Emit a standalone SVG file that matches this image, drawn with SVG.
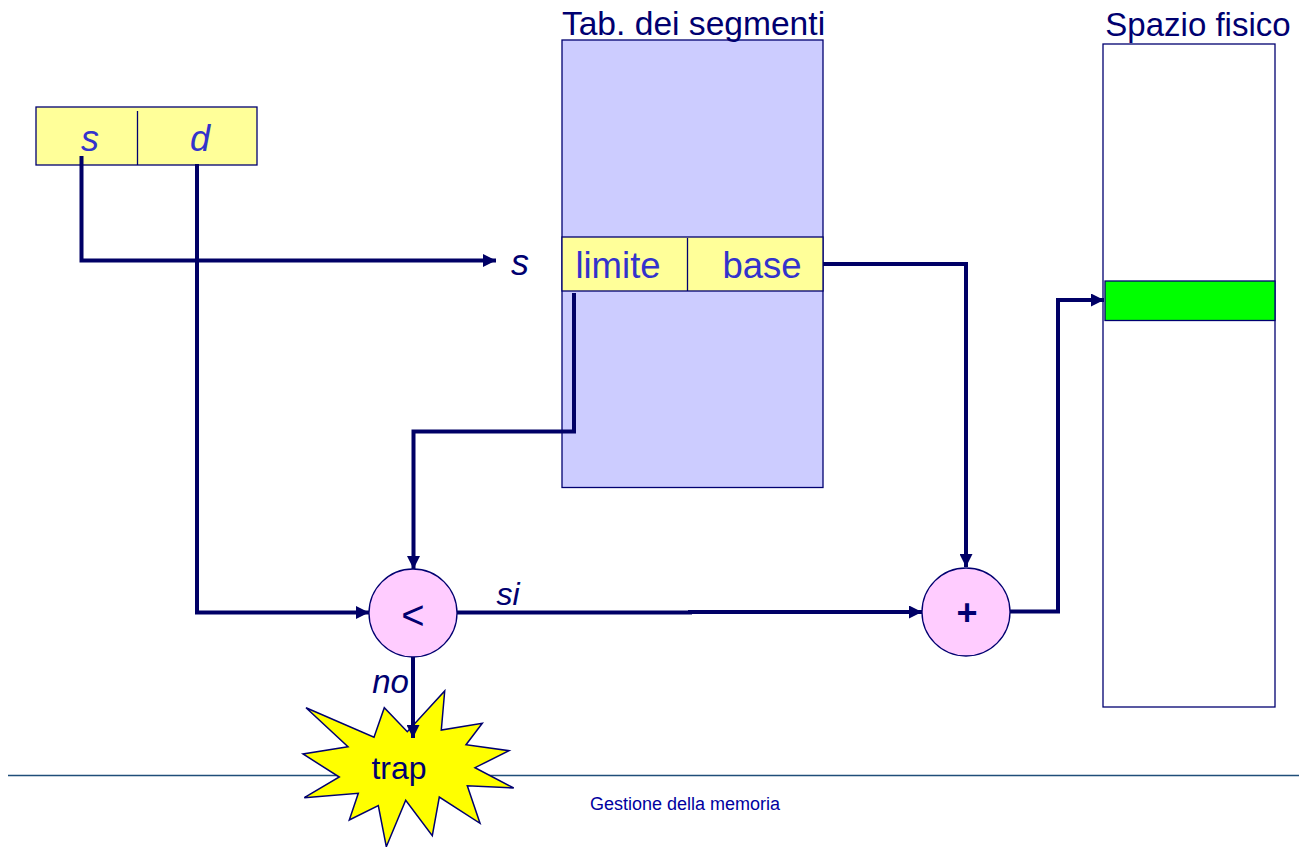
<svg xmlns="http://www.w3.org/2000/svg" width="1299" height="847" viewBox="0 0 1299 847">
<style>
text{font-family:"Liberation Sans",Arial,sans-serif;fill:#000070}
text.b{fill:#3333CC}
.i{font-style:italic}
.box{stroke:#000070;stroke-width:1.300}
.div{stroke:#000070;stroke-width:1.300;fill:none}
.c{fill:none;stroke:#000066;stroke-width:4}
</style>
<defs>
<marker id="a" markerUnits="userSpaceOnUse" markerWidth="14" markerHeight="13" refX="13" refY="6.500" orient="auto"><path d="M0 0L13 6.500L0 13z" fill="#000066"/></marker>
</defs>
<rect width="1299" height="847" fill="#fff"/>
<path d="M8 775.500H1299" stroke="#1F4E79" stroke-width="1.500" fill="none"/>
<text x="685" y="810" font-size="18" text-anchor="middle" style="fill:#0000A0">Gestione della memoria</text>
<g id="tab-segmenti">
<rect class="box" x="562" y="40" width="261" height="447.500" fill="#CCCCFF"/>
<text x="693.500" y="35" font-size="33.600" text-anchor="middle">Tab. dei segmenti</text>
</g>
<g id="riga-segmento">
<rect class="box" x="562" y="237" width="261" height="54" fill="#FFFF99"/>
<path class="div" d="M687.500 238V291"/>
<text class="b" x="618" y="278" font-size="36.500" text-anchor="middle">limite</text>
<text class="b" x="762" y="278" font-size="36.500" text-anchor="middle">base</text>
</g>
<g id="indirizzo">
<rect class="box" x="36" y="107" width="221" height="58" fill="#FFFF99"/>
<path class="div" d="M137.500 111V165"/>
<text class="b i" x="90" y="151" font-size="36" text-anchor="middle">s</text>
<text class="b i" x="200" y="151" font-size="36" text-anchor="middle">d</text>
</g>
<g id="spazio-fisico">
<rect class="box" x="1103" y="44" width="172" height="663" fill="#fff"/>
<rect class="box" x="1105" y="281" width="170" height="39.500" fill="#00FF00"/>
<text x="1198" y="36" font-size="33" text-anchor="middle">Spazio fisico</text>
</g>
<g id="trap">
<polygon points="306,707.700 374,737.300 384.300,707.700 407.300,731.700 444.700,691 441.300,730 482.300,723.300 466,744.700 509,750.700 475,767.700 513.700,788 467.300,785.700 480,823.300 439.300,797 432.300,835.700 405.700,800.300 386.300,846.700 378.300,805.700 349.300,820 358.300,793.300 304.300,797.700 339.300,777 303,754 348,746.700" fill="#FFFF00" stroke="#000070" stroke-width="1.500"/>
<text x="399" y="779" font-size="32" text-anchor="middle">trap</text>
</g>
<g id="confronto">
<circle cx="413" cy="613" r="44" fill="#FFCCFF" stroke="#000070" stroke-width="1.300"/>
<text x="413" y="629" font-size="40" text-anchor="middle">&lt;</text>
</g>
<g id="somma">
<circle cx="966" cy="612" r="44" fill="#FFCCFF" stroke="#000070" stroke-width="1.300"/>
<text x="967" y="625" font-size="36" font-weight="bold" text-anchor="middle">+</text>
</g>
<g id="connettori">
<path class="c" marker-end="url(#a)" d="M81.500 156V260.500H496"/>
<path class="c" marker-end="url(#a)" d="M197 164V612.500H369"/>
<path class="c" marker-end="url(#a)" d="M574 293V431.500H413.500V569"/>
<path class="c" marker-end="url(#a)" d="M823 264H966V567"/>
<path class="c" marker-end="url(#a)" d="M457 612.500H690V612H922"/>
<path class="c" marker-end="url(#a)" d="M1010 611.500H1058V300H1104"/>
<path class="c" marker-end="url(#a)" d="M413 657V738"/>
</g>
<g id="etichette">
<text class="i" x="520" y="275" font-size="36" text-anchor="middle">s</text>
<text class="i" x="508" y="605" font-size="32" text-anchor="middle">si</text>
<text class="i" x="390.500" y="693" font-size="33" text-anchor="middle">no</text>
</g>
</svg>
